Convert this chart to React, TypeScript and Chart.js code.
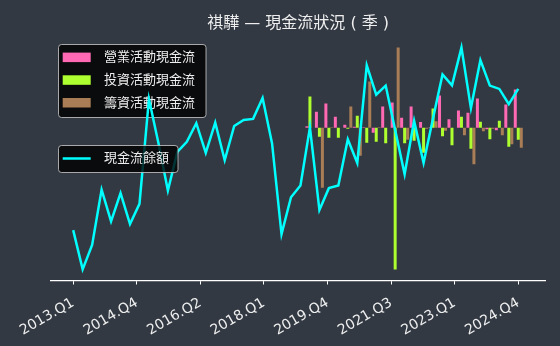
import React, { useEffect, useRef } from "react";
import { Chart, registerables } from "chart.js";

Chart.register(...registerables);

const TITLE = "祺驊 — 現金流狀況 ( 季 )";

const QUARTERS: string[] = [
  "2013.Q1", "2013.Q2", "2013.Q3", "2013.Q4",
  "2014.Q1", "2014.Q2", "2014.Q3", "2014.Q4",
  "2015.Q1", "2015.Q2", "2015.Q3", "2015.Q4",
  "2016.Q1", "2016.Q2", "2016.Q3", "2016.Q4",
  "2017.Q1", "2017.Q2", "2017.Q3", "2017.Q4",
  "2018.Q1", "2018.Q2", "2018.Q3", "2018.Q4",
  "2019.Q1", "2019.Q2", "2019.Q3", "2019.Q4",
  "2020.Q1", "2020.Q2", "2020.Q3", "2020.Q4",
  "2021.Q1", "2021.Q2", "2021.Q3", "2021.Q4",
  "2022.Q1", "2022.Q2", "2022.Q3", "2022.Q4",
  "2023.Q1", "2023.Q2", "2023.Q3", "2023.Q4",
  "2024.Q1", "2024.Q2", "2024.Q3", "2024.Q4",
];

const TICK_LABELS: string[] = [
  "2013.Q1", "2014.Q4", "2016.Q2", "2018.Q1",
  "2019.Q4", "2021.Q3", "2023.Q1", "2024.Q4",
];

const SERIES_NAMES = ["營業活動現金流", "投資活動現金流", "籌資活動現金流"];
const LINE_NAME = "現金流餘額";

const N25: (number | null)[] = [
  null, null, null, null, null, null, null, null, null, null,
  null, null, null, null, null, null, null, null, null, null,
  null, null, null, null, null,
];

const OPERATING: (number | null)[] = [
  ...N25,
  1.5, 16, 24, 11, 3, 1, 0.5, -5, 21, 25, 10, 21, 5.7, 0.5, 32, 8.5, 17, 15, 29, -1.5, -2.5, 23, 38,
];

const INVESTING: (number | null)[] = [
  ...N25,
  31, -9, -10, -10, -1, 12, -15, -14, -15.5, -141.7, -15.5, -13, -25, 19, -8.5, -17.5, 11, -21, 6, -11.5, 7, -19, -12,
];

const FINANCING: (number | null)[] = [
  ...N25,
  0, -60, 0.5, 0, 21, -28, 46, 0.5, 0, 80, -12, 0, -1, 6.5, -3, 0, -7.5, -36.5, -3.7, -1, -7.5, -16.5, -20,
];

const BALANCE: number[] = [
  60.7, 21.7, 46, 100.7, 69.3, 97.3, 66.7, 86.7, 190.7, 147,
  100, 138.3, 148.3, 166.7, 137.3, 167.3, 130, 164, 170, 171,
  191.7, 146.7, 56.7, 93.3, 105, 162.7, 80.7, 102.3, 105, 150.7,
  127.3, 224, 195, 204, 160, 116, 169, 127.3, 171.7, 215,
  204.3, 241.7, 181.7, 229.3, 204, 200.7, 185.7, 200.7,
];

const BG = "#323943";
const COLORS = ["#ff69b4", "#adff2f", "#a97d55"];
const LINE_COLOR = "#00ffff";
const TEXT_COLOR = "#eeeeee";
const FONT = '"DejaVu Sans", "Noto Sans CJK TC", sans-serif';

function padRange(values: (number | null)[], includeZero: boolean) {
  const v = values.filter((x): x is number => x !== null);
  let lo = Math.min(...v);
  let hi = Math.max(...v);
  if (includeZero) {
    lo = Math.min(lo, 0);
    hi = Math.max(hi, 0);
  }
  const m = (hi - lo) * 0.05;
  return { min: lo - m, max: hi + m };
}

function toXY(values: (number | null)[]) {
  return values.map((y, i) => ({ x: i, y }));
}

function roundRect(ctx: CanvasRenderingContext2D, x: number, y: number, w: number, h: number, r: number) {
  ctx.beginPath();
  ctx.moveTo(x + r, y);
  ctx.lineTo(x + w - r, y);
  ctx.quadraticCurveTo(x + w, y, x + w, y + r);
  ctx.lineTo(x + w, y + h - r);
  ctx.quadraticCurveTo(x + w, y + h, x + w - r, y + h);
  ctx.lineTo(x + r, y + h);
  ctx.quadraticCurveTo(x, y + h, x, y + h - r);
  ctx.lineTo(x, y + r);
  ctx.quadraticCurveTo(x, y, x + r, y);
  ctx.closePath();
}

function drawLegendBox(ctx: CanvasRenderingContext2D, x: number, y: number, w: number, h: number) {
  ctx.save();
  roundRect(ctx, x, y, w, h, 3);
  ctx.fillStyle = "rgba(0,0,0,0.8)";
  ctx.fill();
  ctx.strokeStyle = "rgba(204,204,204,0.8)";
  ctx.lineWidth = 1;
  ctx.stroke();
  ctx.restore();
}

const decorPlugin = {
  id: "decor",
  beforeDraw(chart: any) {
    const ctx = chart.ctx as CanvasRenderingContext2D;
    ctx.save();
    ctx.fillStyle = BG;
    ctx.fillRect(0, 0, chart.width, chart.height);
    ctx.restore();
  },
  afterDatasetDraw(chart: any, args: any) {
    if (args.index !== 1) return;
    const ctx = chart.ctx as CanvasRenderingContext2D;
    drawLegendBox(ctx, 58.5, 44.5, 147.5, 73);
    ctx.save();
    ctx.font = `13px ${FONT}`;
    ctx.textBaseline = "middle";
    ctx.textAlign = "left";
    SERIES_NAMES.forEach((name, k) => {
      const cy = 57.3 + k * 22.7;
      ctx.fillStyle = COLORS[k];
      ctx.fillRect(62.7, cy - 4.7, 28, 9.5);
      ctx.fillStyle = TEXT_COLOR;
      ctx.fillText(name, 104, cy + 0.5);
    });
    ctx.restore();
  },
  afterDatasetsDraw(chart: any) {
    const ctx = chart.ctx as CanvasRenderingContext2D;
    drawLegendBox(ctx, 58.5, 145.5, 119.5, 27);
    ctx.save();
    ctx.strokeStyle = LINE_COLOR;
    ctx.lineWidth = 2.5;
    ctx.beginPath();
    ctx.moveTo(62.7, 158.5);
    ctx.lineTo(90.7, 158.5);
    ctx.stroke();
    ctx.font = `13px ${FONT}`;
    ctx.textBaseline = "middle";
    ctx.textAlign = "left";
    ctx.fillStyle = TEXT_COLOR;
    ctx.fillText(LINE_NAME, 104, 159);
    const ca = chart.chartArea;
    ctx.font = `16px ${FONT}`;
    ctx.textAlign = "center";
    ctx.fillText(TITLE, (ca.left + ca.right) / 2, 24);
    ctx.restore();
  },
};

export default function App() {
  const ref = useRef<HTMLCanvasElement | null>(null);

  useEffect(() => {
    if (!ref.current) return;
    const n = QUARTERS.length;
    const barRange = padRange([...OPERATING, ...INVESTING, ...FINANCING], true);
    const lineRange = padRange(BALANCE, false);
    const xSpan = n - 0.5;
    const chart = new Chart(ref.current, {
      type: "bar",
      data: {
        datasets: [
          {
            type: "line",
            label: LINE_NAME,
            data: toXY(BALANCE),
            borderColor: LINE_COLOR,
            backgroundColor: LINE_COLOR,
            borderWidth: 2.5,
            pointRadius: 0,
            tension: 0,
            yAxisID: "yl",
            order: 0,
          } as any,
          ...[OPERATING, INVESTING, FINANCING].map((vals, k) => ({
            type: "bar",
            label: SERIES_NAMES[k],
            data: toXY(vals),
            backgroundColor: COLORS[k],
            borderWidth: 0,
            barPercentage: 1,
            categoryPercentage: 0.95,
            yAxisID: "yb",
            order: 1,
          })),
        ],
      },
      options: {
        responsive: false,
        animation: false,
        layout: { padding: { top: 36.5, left: 50.7, right: 14.5, bottom: 0 } },
        plugins: {
          legend: { display: false },
          title: { display: false },
          tooltip: { enabled: false },
        },
        scales: {
          x: {
            type: "linear",
            offset: false,
            min: -0.05 * xSpan,
            max: xSpan + 0.05 * xSpan,
            grid: {
              display: true,
              offset: false,
              drawOnChartArea: false,
              drawTicks: true,
              tickLength: 4,
              color: "#ffffff",
              lineWidth: 1,
            },
            border: { display: true, color: "#ffffff", width: 1.2 },
            afterBuildTicks: (scale: any) => {
              const m = TICK_LABELS.length;
              scale.ticks = TICK_LABELS.map((_, k) => ({ value: (k * (n - 1)) / (m - 1) }));
            },
            afterFit: (scale: any) => {
              scale.height = 65.5;
              scale.paddingLeft = 0;
              scale.paddingRight = 0;
            },
            ticks: {
              autoSkip: false,
              maxRotation: 30,
              minRotation: 30,
              padding: 10,
              color: TEXT_COLOR,
              font: { family: FONT, size: 14 },
              callback: (_v: any, i: number) => TICK_LABELS[i],
            },
          },
          yb: {
            type: "linear",
            display: false,
            min: barRange.min,
            max: barRange.max,
          },
          yl: {
            type: "linear",
            display: false,
            min: lineRange.min,
            max: lineRange.max,
          },
        },
      } as any,
      plugins: [decorPlugin],
    });
    return () => chart.destroy();
  }, []);

  return (
    <div style={{ position: "fixed", left: 0, top: 0, width: 560, height: 346, background: BG }}>
      <canvas ref={ref} width={560} height={346} style={{ width: 560, height: 346, display: "block" }} />
    </div>
  );
}
